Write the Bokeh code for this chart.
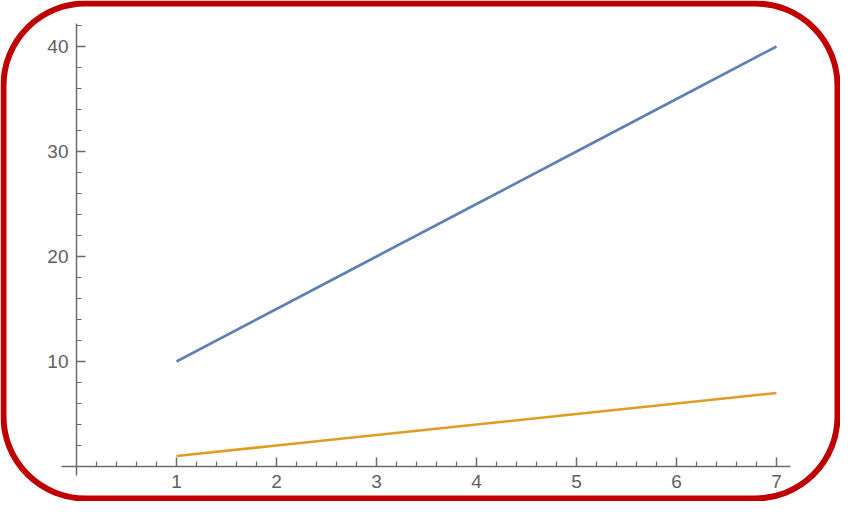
from bokeh.plotting import figure
from bokeh.models import LinearAxis, FixedTicker, BoxAnnotation, Range1d
from bokeh.embed import file_html
from bokeh.resources import INLINE

# data
xs = [1, 2, 3, 4, 5, 6, 7]
blue = [10, 15, 20, 25, 30, 35, 40]
orange = [1, 2, 3, 4, 5, 6, 7]

x_ticks = [1, 2, 3, 4, 5, 6, 7]
x_minor = [0.2, 0.4, 0.6, 0.8, 1.2, 1.4, 1.6, 1.8, 2.2, 2.4, 2.6, 2.8,
           3.2, 3.4, 3.6, 3.8, 4.2, 4.4, 4.6, 4.8, 5.2, 5.4, 5.6, 5.8,
           6.2, 6.4, 6.6, 6.8]
y_ticks = [10, 20, 30, 40]
y_minor = [2, 4, 6, 8, 12, 14, 16, 18, 22, 24, 26, 28, 32, 34, 36, 38, 42]

W, H = 840, 501
# frame covers the whole canvas; 100 px per x unit, 10.5 px per y unit
p = figure(width=W, height=H, output_backend="svg", toolbar_location=None,
           x_range=Range1d(-0.76, -0.76 + W / 100),
           y_range=Range1d(-35 / 10.5, -35 / 10.5 + H / 10.5),
           x_axis_location=None, y_axis_location=None,
           min_border=0)
p.outline_line_color = None
p.grid.grid_line_color = None
p.background_fill_color = "white"
p.border_fill_color = "white"

axis_color = "#6b6b6b"
label_color = "#606060"

xaxis = LinearAxis(fixed_location=0, bounds=(-0.15, 7.14),
                   ticker=FixedTicker(ticks=x_ticks, minor_ticks=x_minor))
yaxis = LinearAxis(fixed_location=0, bounds=(-0.86, 42.15),
                   ticker=FixedTicker(ticks=y_ticks, minor_ticks=y_minor))
for ax in (xaxis, yaxis):
    ax.axis_line_color = axis_color
    ax.axis_line_width = 1.5
    ax.major_tick_line_color = axis_color
    ax.minor_tick_line_color = axis_color
    ax.major_tick_line_width = 1.5
    ax.minor_tick_line_width = 1.2
    ax.major_tick_in = 9
    ax.major_tick_out = 0
    ax.minor_tick_in = 5
    ax.minor_tick_out = 0
    ax.major_label_text_font = "Liberation Sans"
    ax.major_label_text_font_size = "19px"
    ax.major_label_text_color = label_color
    ax.major_label_standoff = 8
p.add_layout(xaxis, "below")
p.add_layout(yaxis, "left")

p.line(xs, blue, line_color="#5E81B5", line_width=2.6)
p.line(xs, orange, line_color="#E19C24", line_width=2.6)

# rounded red frame around the whole picture
frame = BoxAnnotation(left=3, right=W - 3, top=3, bottom=H - 3,
                      left_units="canvas", right_units="canvas",
                      top_units="canvas", bottom_units="canvas",
                      fill_alpha=0, line_color="#C00000", line_alpha=1.0,
                      line_width=6, border_radius=82, level="overlay")
p.add_layout(frame)

open("out.html", "w").write(file_html(p, INLINE))
